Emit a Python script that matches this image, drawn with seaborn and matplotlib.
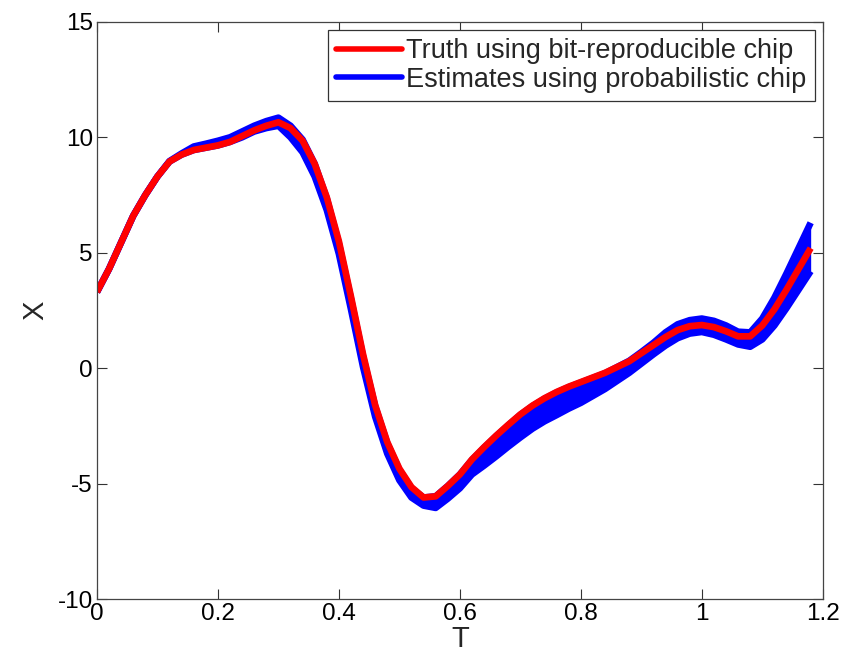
import matplotlib
matplotlib.use("Agg")
import matplotlib.pyplot as plt
import seaborn as sns
import numpy as np
import pandas as pd
from matplotlib.lines import Line2D

t_values = [0.00, 0.02, 0.04, 0.06, 0.08, 0.10, 0.12, 0.14, 0.16, 0.18,
            0.20, 0.22, 0.24, 0.26, 0.28, 0.30, 0.32, 0.34, 0.36, 0.38,
            0.40, 0.42, 0.44, 0.46, 0.48, 0.50, 0.52, 0.54, 0.56, 0.58,
            0.60, 0.62, 0.64, 0.66, 0.68, 0.70, 0.72, 0.74, 0.76, 0.78,
            0.80, 0.82, 0.84, 0.86, 0.88, 0.90, 0.92, 0.94, 0.96, 0.98,
            1.00, 1.02, 1.04, 1.06, 1.08, 1.10, 1.12, 1.14, 1.16, 1.18]

truth = [3.3, 4.3, 5.45, 6.6, 7.5, 8.3, 8.95, 9.25, 9.45, 9.55,
         9.65, 9.8, 10.05, 10.3, 10.5, 10.65, 10.4, 9.85, 8.85, 7.4,
         5.5, 3.1, 0.6, -1.6, -3.2, -4.35, -5.15, -5.6, -5.55, -5.1,
         -4.6, -3.95, -3.42, -2.92, -2.45, -2.0, -1.62, -1.3, -1.03, -0.8,
         -0.6, -0.4, -0.2, 0.05, 0.3, 0.65, 1.0, 1.35, 1.65, 1.82,
         1.87, 1.78, 1.6, 1.38, 1.38, 1.85, 2.55, 3.4, 4.3, 5.2]

estimate_upper = [3.3, 4.3, 5.45, 6.6, 7.5, 8.3, 8.97, 9.3, 9.6, 9.72,
                  9.85, 10.0, 10.25, 10.5, 10.7, 10.85, 10.5, 9.9, 8.85, 7.35,
                  5.4, 3.0, 0.5, -1.65, -3.25, -4.4, -5.2, -5.6, -5.55, -5.1,
                  -4.6, -3.97, -3.44, -2.94, -2.47, -2.02, -1.64, -1.32, -1.05, -0.82,
                  -0.62, -0.42, -0.22, 0.05, 0.32, 0.7, 1.1, 1.55, 1.9, 2.08,
                  2.15, 2.05, 1.85, 1.58, 1.55, 2.15, 3.05, 4.1, 5.2, 6.3]

estimate_lower = [3.3, 4.3, 5.45, 6.6, 7.5, 8.3, 8.95, 9.25, 9.45, 9.55,
                  9.65, 9.8, 10.0, 10.25, 10.4, 10.5, 10.0, 9.35, 8.3, 6.85,
                  4.95, 2.55, 0.05, -2.1, -3.7, -4.85, -5.6, -5.95, -6.05, -5.65,
                  -5.2, -4.6, -4.22, -3.82, -3.4, -3.0, -2.62, -2.3, -2.03, -1.75,
                  -1.5, -1.2, -0.9, -0.55, -0.2, 0.2, 0.6, 0.98, 1.3, 1.5,
                  1.57, 1.45, 1.25, 1.03, 0.93, 1.25, 1.85, 2.6, 3.4, 4.2]

df = pd.DataFrame({"T": t_values, "truth": truth,
                   "upper": estimate_upper, "lower": estimate_lower})

sns.set_theme(style="white")
plt.rcParams["font.family"] = ["Liberation Sans", "DejaVu Sans"]

fig = plt.figure(figsize=(8.43, 6.62), dpi=100)
ax = fig.add_axes([0.115, 0.095, 0.861, 0.872])

lw = 4.8
ax.fill_between(df["T"], df["lower"], df["upper"], color="#0000ff", lw=0)
sns.lineplot(data=df, x="T", y="upper", ax=ax, color="#0000ff", lw=lw,
             solid_capstyle="butt")
sns.lineplot(data=df, x="T", y="lower", ax=ax, color="#0000ff", lw=lw,
             solid_capstyle="butt")
sns.lineplot(data=df, x="T", y="truth", ax=ax, color="#ff0000", lw=lw,
             solid_capstyle="butt")

ax.set_xlim(0, 1.2)
ax.set_ylim(-10, 15)
ax.set_xticks([0, 0.2, 0.4, 0.6, 0.8, 1.0, 1.2])
ax.set_xticklabels(["0", "0.2", "0.4", "0.6", "0.8", "1", "1.2"])
ax.set_yticks([-10, -5, 0, 5, 10, 15])
ax.set_yticklabels(["-10", "-5", "0", "5", "10", "15"])
ax.set_xlabel("T", fontsize=21, labelpad=0)
ax.set_ylabel("X", fontsize=21, labelpad=6)
ax.tick_params(direction="in", length=7, width=0.8, labelsize=17.5,
               top=True, right=True, bottom=True, left=True, colors="#333333",
               labelcolor="black", pad=3)
for s in ax.spines.values():
    s.set_visible(True)
    s.set_color("#444444")
    s.set_linewidth(0.9)

handles = [Line2D([], [], color="#ff0000", lw=4.0),
           Line2D([], [], color="#0000ff", lw=4.0)]
labels = ["Truth using bit-reproducible chip", "Estimates using probabilistic chip"]
leg = ax.legend(handles, labels, loc="upper right", fontsize=19.5,
                frameon=True, fancybox=False, framealpha=1, edgecolor="#333333",
                handlelength=2.45, handletextpad=0.15, borderpad=0.3,
                labelspacing=0.1, borderaxespad=0.3)
leg.get_frame().set_linewidth(0.9)

fig.savefig("out.png", dpi=100)
